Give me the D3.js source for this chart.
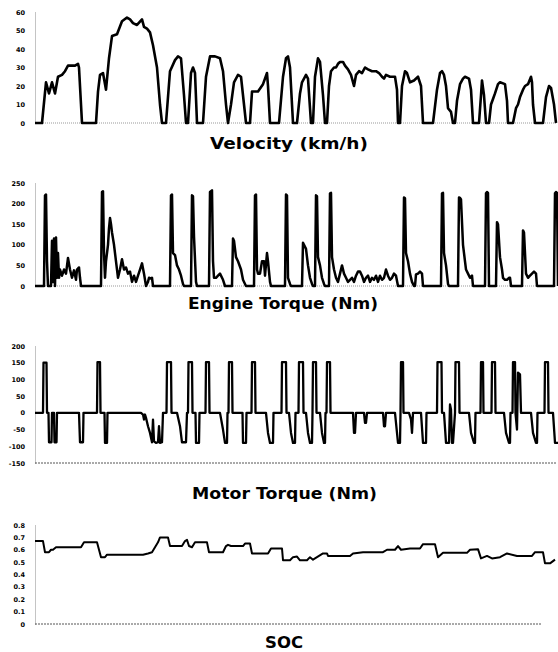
<!DOCTYPE html>
<html><head><meta charset="utf-8">
<script src="https://cdn.jsdelivr.net/npm/d3@7"></script>
<style>body{margin:0;background:#fff}svg{display:block}</style>
</head><body>
<script>
// ---- DATA (time in sample units, value) ----
const velocityT = [0,7,11,14,17,20,23,27,30,33,40,43,44,47,61,63,65,68,71,74,77,82,87,92,95,98,102,107,109,112,115,118,122,125,127,
 131,135,140,143,146,149,151,153,156,158,160,162,168,171,175,180,185,188,191,193,196,199,203,206,209,211,215,217,220,223,228,232,233,235,
 244,248,251,253,255,258,262,265,267,271,273,276,278,280,283,285,288,290,292,294,296,299,301,303,305,308,310,313,316,319,321,324,327,330,333,337,341,344,347,349,351,355,360,362,363,
 365,367,370,372,375,379,383,386,388,398,402,405,407,409,411,413,416,418,420,422,425,428,430,434,436,438,444,446,447,449,451,454,456,458,460,463,465,470,472,473,
 478,481,483,485,488,490,493,496,497,498,500,508,511,514,516,519,521];
const velocityV = [0,0,22,16,22,16,25,26,28,31,31,32,30,0,0,17,26,27,18,35,47,48,55,57,56,54,53,56,52,51,49,42,30,10,0,
 0,28,34,36,35,15,0,0,27,30,27,0,0,25,36,36,35,28,10,0,10,22,26,25,10,0,0,17,17,17,21,27,20,0,
 0,25,35,36,30,0,0,16,22,26,24,0,0,25,35,33,15,0,0,20,28,30,30,32,33,33,31,29,26,20,26,28,27,30,29,28,28,27,25,24,26,25,25,18,0,
 0,20,28,27,22,23,25,20,0,0,18,27,28,26,20,8,6,0,0,12,21,24,25,24,18,0,0,15,23,15,0,0,10,13,16,21,22,21,12,0,
 0,8,10,14,18,20,21,25,22,10,0,0,14,20,19,10,0];

const engineT = [0,9,10,11,12,13,16,17,18,19,20,21,22,23,24,25,27,29,31,33,35,37,39,41,42,44,45,46,
 66,67,68,69,70,71,72,73,74,75,76,77,79,81,83,85,87,89,91,93,95,97,99,101,103,105,107,109,111,113,114,116,117,118,
 135,136,137,138,140,142,144,146,148,149,156,157,158,159,161,162,
 174,175,176,177,178,179,181,183,185,188,190,197,198,199,201,203,206,208,210,211,
 219,220,221,222,223,225,227,229,230,232,233,235,236,250,251,252,253,255,256,
 267,268,269,271,273,275,277,278,280,281,282,283,285,287,289,290,
 294,295,296,297,299,301,303,305,307,309,311,313,315,317,319,321,323,325,327,329,331,333,335,337,339,341,343,345,347,349,351,353,355,357,359,361,363,
 368,369,370,371,373,375,377,379,380,381,383,385,387,388,406,407,408,409,411,413,414,
 423,424,425,426,428,430,431,433,435,437,438,450,451,452,453,454,
 461,462,463,465,467,468,470,472,474,475,476,487,488,489,491,493,495,497,499,501,502,519,520,521,522,523];
const engineV = [0,0,220,222,60,0,0,110,10,115,0,118,20,80,20,40,25,40,30,68,40,20,38,15,40,45,20,0,
 0,228,230,80,20,60,80,100,140,165,150,130,100,60,20,40,65,40,45,30,35,10,25,10,25,40,55,30,0,10,20,18,20,0,
 0,220,222,80,75,50,40,25,5,0,0,220,218,120,10,0,
 0,228,230,232,60,20,20,25,30,15,0,0,115,110,70,60,40,15,5,0,
 0,220,222,40,30,30,60,60,25,80,60,10,0,0,222,220,20,5,0,
 0,105,100,90,50,20,5,0,0,220,218,70,50,20,5,0,
 0,225,226,70,40,20,10,30,50,30,20,10,15,20,10,25,35,35,25,10,20,25,10,20,15,25,10,25,15,20,40,25,15,20,30,25,0,
 0,215,213,80,60,30,10,0,0,28,30,35,30,0,0,225,226,80,50,5,0,
 0,215,214,210,100,60,40,30,20,25,0,0,225,228,226,0,
 0,155,150,70,40,20,15,15,20,20,0,0,135,130,30,20,25,30,35,30,0,0,225,228,226,0];

// motor torque as [time, Nm] pairs
const motorTorque = [[0,0],[8,0],[8.5,150],[11.5,150],[12,0],[13.5,0],[14,-88],[16.5,-88],[17,0],[19,0],[19.5,-88],[21.5,-88],[22,0],
 [44,0],[45,-88],[48,-88],[48.5,0],[62,0],[62.5,152],[65,152],[65.5,0],[69.5,0],[70,-90],[72,-90],[72.5,0],
 [106,0],[108,-5],[109,-20],[110,-5],[111,-15],[113,-40],[115,-60],[117,-88],[118,-20],[119,-85],[121,-90],[123,-88],[124,-40],[125,-90],[127,-88],[128,0],
 [131.5,0],[132,152],[136,152],[136.5,0],
 [142,0],[145,-40],[147,-88],[151,-88],[152,0],[153,0],[153.5,152],[157,152],[157.5,0],
 [160.5,0],[161,-90],[164,-90],[164.5,0],
 [170.5,0],[171,152],[174,152],[174.5,0],
 [185,0],[188,-50],[190,-90],[192,-90],[192.5,0],
 [193.5,0],[194,152],[197,152],[197.5,0],
 [207.5,0],[208,-90],[211,-90],[211.5,0],
 [216.5,0],[217,152],[220,152],[220.5,0],
 [231,0],[233,-60],[235,-90],[238,-90],[238.5,0],
 [246.5,0],[247,152],[251,152],[251.5,0],
 [254,0],[256,-60],[258,-90],[260,-90],[260.5,0],
 [263.5,0],[264,152],[268,152],[268.5,0],
 [271,0],[273,-60],[275,-90],[277,-90],[277.5,0],[278,152],[281,152],[281.5,0],
 [285,0],[287,-60],[289,-90],[290,-90],[290.5,0],
 [291.5,0],[292,152],[295,152],[295.5,0],
 [318,0],[319,-60],[320,-60],[321,0],
 [329,0],[330,-30],[331,-30],[332,0],
 [348,0],[349,-40],[350,-40],[351,0],
 [360,0],[362,-60],[363,-90],[365,-90],[365.5,0],[366,152],[368,152],[368.5,0],
 [374,0],[376,-20],[377,-60],[378,0],
 [386,0],[388,-90],[391,-90],[391.5,0],
 [402,0],[402.5,152],[406.5,152],[407,0],
 [409,0],[411,-90],[414,-90],[415,25],[416,10],[417,-90],[418,-90],[420,0],[420.5,152],[424,152],[424.5,0],
 [434,0],[436,-60],[439,-90],[440,-90],[440.5,0],
 [445.5,0],[446,152],[448,152],[448.5,0],
 [456.5,0],[457,152],[460,152],[460.5,0],
 [469,0],[471,-60],[474,-90],[475,-90],[475.5,0],
 [477.5,0],[478,152],[480,152],[480.5,0],[482,-50],[483,120],[485,115],[486,0],
 [496,0],[498,-60],[501,-90],[502,-90],[502.5,0],
 [509.5,0],[510,152],[513,152],[513.5,0],
 [518,0],[520,-90],[523,-90]];

const socT = [0,8,10,14,16,18,21,46,49,62,64,66,70,72,108,113,117,120,123,125,133,135,147,150,152,154,157,160,172,174,188,191,193,196,208,210,215,217,233,236,
 247,248,255,258,262,265,272,275,278,288,292,293,315,318,328,348,352,360,363,366,375,385,388,400,403,408,432,435,443,446,452,457,465,472,482,497,500,508,510,515,520];
const socV = [0.67,0.67,0.58,0.58,0.60,0.60,0.62,0.62,0.66,0.66,0.60,0.54,0.54,0.56,0.56,0.57,0.58,0.62,0.66,0.70,0.70,0.63,0.63,0.67,0.68,0.63,0.62,0.66,0.66,0.58,0.58,0.63,0.64,0.63,0.63,0.65,0.65,0.57,0.57,0.61,
 0.61,0.515,0.515,0.54,0.545,0.515,0.515,0.54,0.52,0.57,0.57,0.55,0.55,0.57,0.58,0.58,0.60,0.60,0.63,0.60,0.61,0.61,0.645,0.645,0.54,0.575,0.575,0.60,0.605,0.53,0.55,0.53,0.54,0.57,0.55,0.55,0.58,0.58,0.49,0.49,0.52];

const velTicks = [0,10,20,30,40,50,60];
const engTicks = [0,50,100,150,200,250];
const motTicks = [-150,-100,-50,0,50,100,150,200];
const socTicks = [0,0.1,0.2,0.3,0.4,0.5,0.6,0.7,0.8];
const titles = ["Velocity (km/h)","Engine Torque (Nm)","Motor Torque (Nm)","SOC"];

// ---- DRAW ----
const svg = d3.select("body").append("svg").attr("width",558).attr("height",652);
const x = d3.scaleLinear().domain([0,523]).range([35,558]);

const pairs = (ts, vs) => ts.map((t,i)=>[t,vs[i]]);

const panels = [
 {data:pairs(velocityT,velocityV), dom:[0,60], rng:[123,12], ticks:velTicks, sw:2.6, title:titles[0], tx:210, ty:149, tl:158, bottom:{x2:556, dash:"1,1", col:"#999"}},
 {data:pairs(engineT,engineV), dom:[0,250], rng:[286,183], ticks:engTicks, sw:2.5, title:titles[1], tx:188, ty:309, tl:190, bottom:{x2:556, dash:"1,1", col:"#999"}},
 {data:motorTorque, dom:[-150,200], rng:[463,346], ticks:motTicks, sw:2.3, title:titles[2], tx:192, ty:499, tl:185, bottom:{x2:557, dash:"2,1", col:"#555"}},
 {data:pairs(socT,socV), dom:[0,0.8], rng:[624,525], ticks:socTicks, sw:2.0, title:titles[3], tx:265, ty:648, tl:38, bottom:{x2:541, dash:"2,1", col:"#555"}}
];

panels.forEach(p => {
  const y = d3.scaleLinear().domain(p.dom).range(p.rng);
  const g = svg.append("g");
  const ax = g.append("g").attr("transform","translate(35,0)")
    .call(d3.axisLeft(y).tickValues(p.ticks).tickSize(0).tickPadding(10).tickFormat(d => String(d)));
  ax.select(".domain").attr("stroke","#888").attr("stroke-dasharray","1,1").attr("stroke-width",1);
  ax.selectAll("text").attr("font-family","DejaVu Sans, sans-serif").attr("font-size",6.5).attr("font-weight","bold").attr("fill","#000");
  g.append("line").attr("x1",35).attr("x2",p.bottom.x2).attr("y1",p.rng[0]).attr("y2",p.rng[0])
    .attr("stroke",p.bottom.col).attr("stroke-dasharray",p.bottom.dash).attr("stroke-width",1);
  g.append("path").datum(p.data)
    .attr("d", d3.line().x(d=>x(d[0])).y(d=>y(d[1])))
    .attr("fill","none").attr("stroke","#000").attr("stroke-width",p.sw).attr("stroke-linejoin","round");
  g.append("text").attr("x",p.tx).attr("y",p.ty).text(p.title)
    .attr("font-family","DejaVu Sans, sans-serif").attr("font-weight","bold").attr("font-size",16)
    .attr("textLength",p.tl).attr("lengthAdjust","spacingAndGlyphs").attr("fill","#000");
});
</script>
</body></html>
